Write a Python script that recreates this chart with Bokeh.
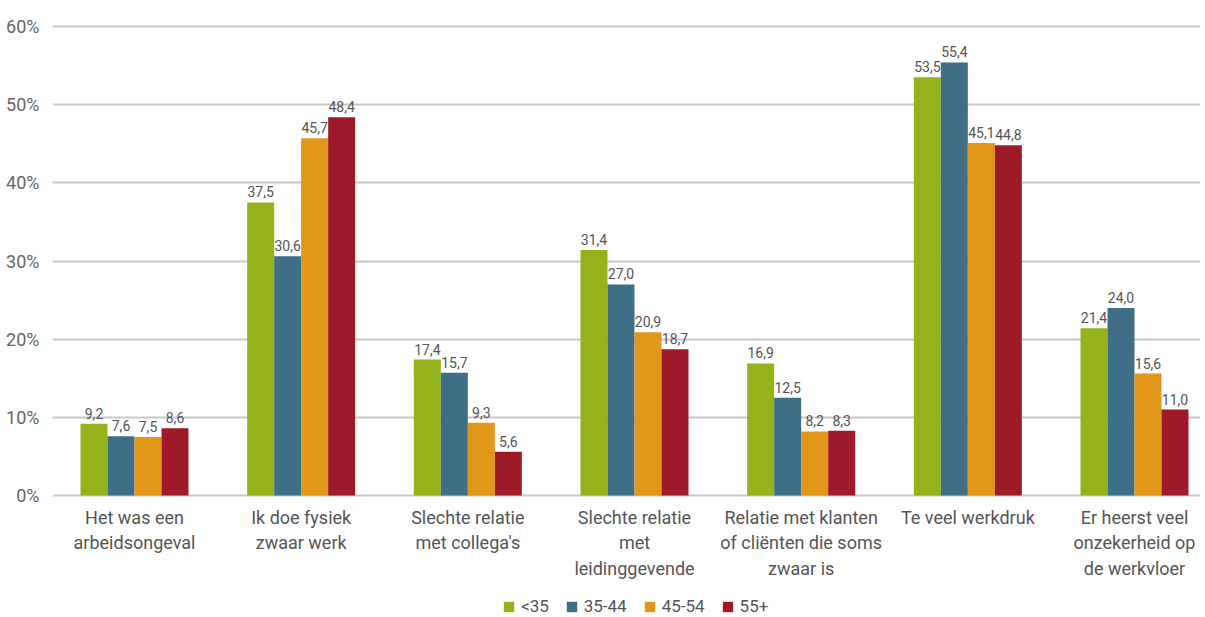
from bokeh.plotting import figure
from bokeh.models import ColumnDataSource, FixedTicker, CustomJSTickFormatter, Legend, LegendItem
from bokeh.core.properties import value
from bokeh.embed import file_html
from bokeh.resources import INLINE

categories = ["Het was een\narbeidsongeval", "Ik doe fysiek\nzwaar werk", "Slechte relatie\nmet collega's",
              "Slechte relatie\nmet\nleidinggevende", "Relatie met klanten\nof cliënten die soms\nzwaar is",
              "Te veel werkdruk", "Er heerst veel\nonzekerheid op\nde werkvloer"]
series_names = ["<35", "35-44", "45-54", "55+"]
under35 = [9.2, 37.5, 17.4, 31.4, 16.9, 53.5, 21.4]
age35_44 = [7.6, 30.6, 15.7, 27.0, 12.5, 55.4, 24.0]
age45_54 = [7.5, 45.7, 9.3, 20.9, 8.2, 45.1, 15.6]
age55plus = [8.6, 48.4, 5.6, 18.7, 8.3, 44.8, 11.0]
y_ticks = [0, 10, 20, 30, 40, 50, 60]

colors = ["#93B21B", "#3F6F86", "#E2961A", "#9E1A28"]
FONT = "Roboto"

p = figure(width=1205, height=617, output_backend="svg", toolbar_location=None,
           x_range=(-0.492, 6.396), y_range=(-15.6, 62.05),
           min_border_left=52, min_border_top=10, min_border_bottom=0, min_border_right=5)
p.outline_line_color = None
p.background_fill_color = "white"
p.border_fill_color = "white"
p.xaxis.visible = False
p.xgrid.visible = False
p.yaxis.ticker = FixedTicker(ticks=y_ticks)
p.ygrid.ticker = FixedTicker(ticks=y_ticks)
p.ygrid.grid_line_color = "#C8C8C8"
p.ygrid.grid_line_width = 2
p.yaxis.axis_line_color = None
p.yaxis.major_tick_line_color = None
p.yaxis.minor_tick_line_color = None
p.yaxis.formatter = CustomJSTickFormatter(code="return tick + '%';")
p.yaxis.major_label_text_font = FONT
p.yaxis.major_label_text_font_size = "18px"
p.yaxis.major_label_text_color = "#666666"
p.yaxis.major_label_standoff = 7

bw = 0.162
offsets = [-1.5 * bw, -0.5 * bw, 0.5 * bw, 1.5 * bw]
all_series = [under35, age35_44, age45_54, age55plus]
items = []
for vals, name, col, off in zip(all_series, series_names, colors, offsets):
    xs = [i + off for i in range(len(categories))]
    src = ColumnDataSource(dict(x=xs, top=vals, lab=[f"{v:.1f}".replace(".", ",") for v in vals]))
    r = p.vbar(x="x", top="top", width=bw, bottom=0, source=src, fill_color=col, line_color=None)
    items.append(LegendItem(label=name, renderers=[r]))
    p.text(x="x", y="top", text="lab", source=src, text_align="center", text_baseline="bottom",
           y_offset=-5, text_font=value(FONT), text_font_size="14px", text_color="#555555")

csrc = ColumnDataSource(dict(x=list(range(len(categories))), y=[-1.5] * len(categories), t=categories))
p.text(x="x", y="y", text="t", source=csrc, text_align="center", text_baseline="top",
       text_font=value(FONT), text_font_size="18px", text_color="#555555", text_line_height=1.2)

legend = Legend(items=items, orientation="horizontal", location=(450, 1),
                label_text_font=FONT, label_text_font_size="17px", label_text_color="#555555",
                glyph_width=13, glyph_height=13, spacing=16, padding=0, margin=0,
                border_line_color=None, background_fill_alpha=0, label_standoff=6)
p.add_layout(legend)

open("out.html", "w").write(file_html(p, INLINE))
